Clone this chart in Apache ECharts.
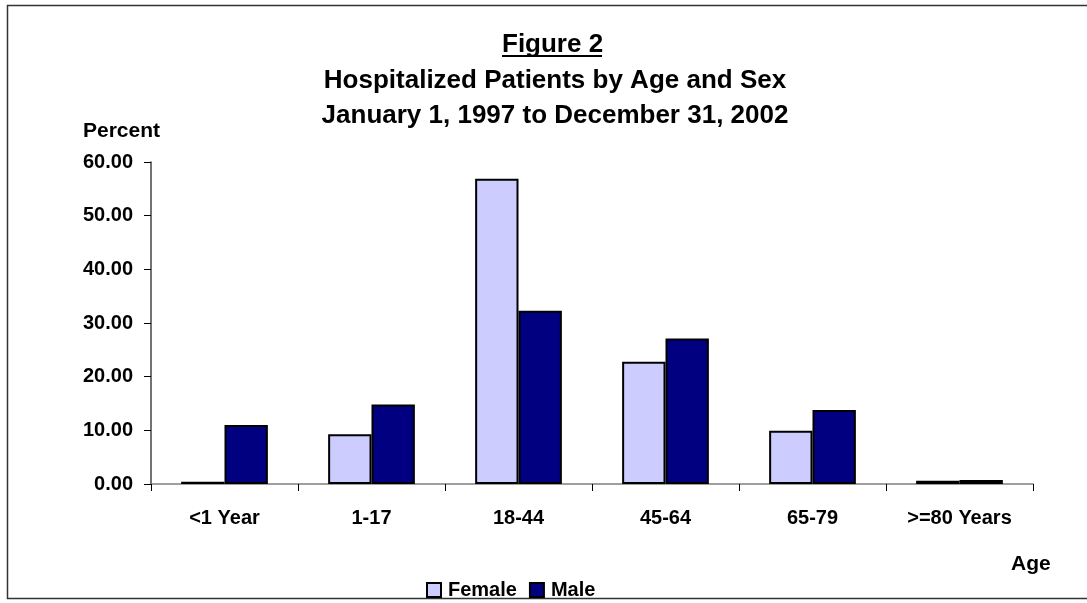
<!DOCTYPE html>
<html>
<head>
<meta charset="utf-8">
<script src="https://cdn.jsdelivr.net/npm/echarts@6/dist/echarts.min.js"></script>
<style>
html,body{margin:0;padding:0;background:#fff;}
#chart{width:1087px;height:603px;}
</style>
</head>
<body>
<div id="chart"></div>
<script>
const categories = ['<1 Year', '1-17', '18-44', '45-64', '65-79', '>=80 Years'];
const female = [0.4, 9.25, 56.9, 22.8, 9.9, 0.6];
const male = [11.0, 14.8, 32.3, 27.1, 13.8, 0.75];
const yTicks = { min: 0, max: 60, interval: 10 };

const FONT = '"Liberation Sans", Arial, sans-serif';
const chart = echarts.init(document.getElementById('chart'));
chart.setOption({
  backgroundColor: '#fff',
  animation: false,
  textStyle: { fontFamily: FONT },
  title: [
    {
      text: 'Hospitalized Patients by Age and Sex\nJanuary 1, 1997 to December 31, 2002',
      left: 550, top: 58, textAlign: 'center',
      textStyle: { fontFamily: FONT, fontSize: 26, fontWeight: 'bold', color: '#000', lineHeight: 35 }
    },
    {
      text: 'Percent', left: 78, top: 116,
      textStyle: { fontFamily: FONT, fontSize: 21, fontWeight: 'bold', color: '#000' }
    },
    {
      text: 'Age', left: 1006, top: 549,
      textStyle: { fontFamily: FONT, fontSize: 21, fontWeight: 'bold', color: '#000' }
    }
  ],
  graphic: [
    { type: 'rect', shape: { x: 7.5, y: 5.5, width: 1090, height: 593 }, style: { fill: 'none', stroke: '#333', lineWidth: 1.5 }, silent: true },
    { type: 'text', left: 502, top: 32, style: { text: 'Figure 2', font: 'bold 26px ' + FONT, fill: '#000' } },
    { type: 'rect', shape: { x: 502, y: 55, width: 100, height: 2 }, style: { fill: '#000' } }
  ],
  legend: {
    left: 421, top: 575,
    itemWidth: 14, itemHeight: 14, itemGap: 12,
    icon: 'rect',
    textStyle: { fontFamily: FONT, fontSize: 20, fontWeight: 'bold', color: '#000', padding: [0, 0, 0, 2] },
    data: ['Female', 'Male']
  },
  grid: { left: 151, right: 54, top: 162, bottom: 119 },
  xAxis: {
    type: 'category',
    data: categories,
    axisLine: { lineStyle: { color: '#808080', width: 1.5 } },
    axisTick: { show: true, length: 7, lineStyle: { color: '#000' } },
    axisLabel: { margin: 24, fontFamily: FONT, fontSize: 20, fontWeight: 'bold', color: '#000', interval: 0 }
  },
  yAxis: {
    type: 'value',
    min: yTicks.min, max: yTicks.max, interval: yTicks.interval,
    axisLine: { show: true, lineStyle: { color: '#444', width: 1.5 } },
    axisTick: { show: true, length: 7, lineStyle: { color: '#000' } },
    splitLine: { show: false },
    axisLabel: { margin: 18, fontFamily: FONT, fontSize: 20, fontWeight: 'bold', color: '#000',
      formatter: v => v.toFixed(2) }
  },
  series: [
    { name: 'Female', type: 'bar', data: female, barGap: '0%', barCategoryGap: '41%',
      itemStyle: { color: '#CCCCFF', borderColor: '#000', borderWidth: 2 } },
    { name: 'Male', type: 'bar', data: male,
      itemStyle: { color: '#000080', borderColor: '#000', borderWidth: 2 } }
  ]
});
</script>
</body>
</html>
